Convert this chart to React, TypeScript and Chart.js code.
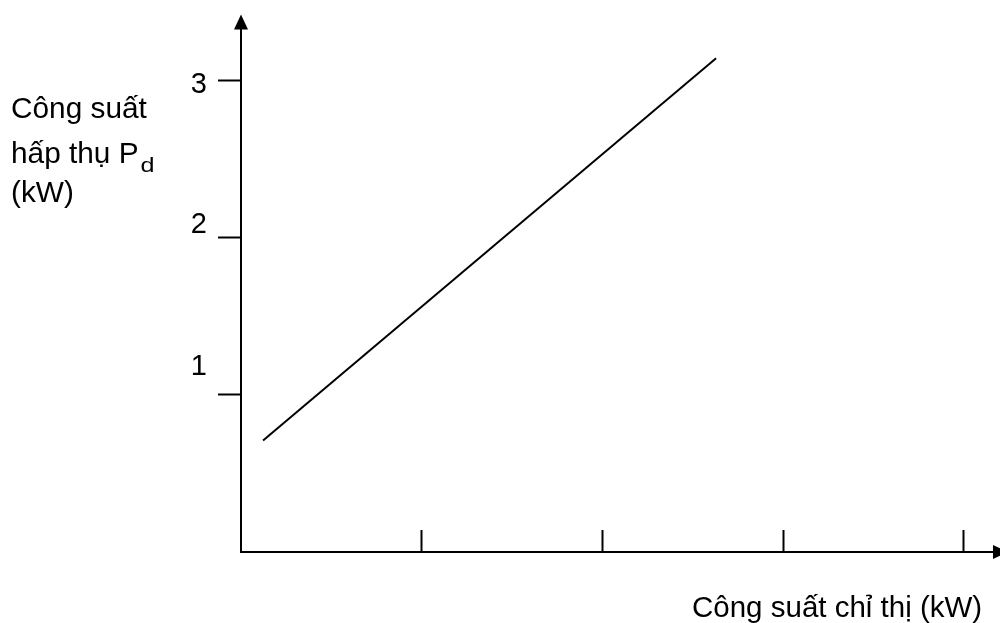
import React, { useEffect, useRef } from 'react';
import { Chart, registerables } from 'chart.js';

Chart.register(...registerables);

// ---- data ----
const xTickValues = [1, 2, 3, 4];
const yTickValues = [1, 2, 3];
const yTickLabels = ['1', '2', '3'];
// the labels in the source drawing sit slightly off their tick marks
const yTickLabelValues = [1.18, 2.08, 2.975];
const lineX = [0.122, 2.629];
const lineY = [0.71, 3.145];
const xMax = 4.167;
const yMax = 3.335;
const yTitleLines = ['Công suất', 'hấp thụ P', '(kW)'];
const yTitleSub = 'd';
const xTitle = 'Công suất chỉ thị (kW)';

const FONT = '"Liberation Sans", Arial, Helvetica, sans-serif';

const decorPlugin = {
  id: 'decor',
  afterDraw(chart: any) {
    const { ctx, chartArea } = chart;
    const xs = chart.scales.x;
    const ys = chart.scales.y;
    ctx.save();
    ctx.fillStyle = '#000';
    // arrow heads at axis ends
    const ax = ys.right;
    const top = chartArea.top;
    ctx.beginPath();
    ctx.moveTo(ax - 7, top + 1);
    ctx.lineTo(ax + 7, top + 1);
    ctx.lineTo(ax, top - 14);
    ctx.closePath();
    ctx.fill();
    const ay = xs.top;
    const right = chartArea.right;
    ctx.beginPath();
    ctx.moveTo(right - 1, ay - 7);
    ctx.lineTo(right - 1, ay + 7);
    ctx.lineTo(right + 14, ay);
    ctx.closePath();
    ctx.fill();

    // axis titles
    ctx.textBaseline = 'alphabetic';
    ctx.textAlign = 'left';
    ctx.font = `29.8px ${FONT}`;
    const baselines = [118, 163, 202];
    yTitleLines.forEach((t, i) => ctx.fillText(t, 11, baselines[i]));
    const w = ctx.measureText(yTitleLines[1]).width;
    ctx.save();
    ctx.font = `21px ${FONT}`;
    ctx.translate(11 + w + 2, 172);
    ctx.scale(1.2, 1);
    ctx.fillText(yTitleSub, 0, 0);
    ctx.restore();
    ctx.font = `29.5px ${FONT}`;
    ctx.fillText(xTitle, 692, 617);
    ctx.restore();
  },
};

export default function App() {
  const ref = useRef<HTMLCanvasElement>(null);

  useEffect(() => {
    document.body.style.margin = '0';
    document.body.style.overflow = 'hidden';
    const canvas = ref.current!;
    const chart = new Chart(canvas, {
      type: 'scatter',
      data: {
        datasets: [
          {
            data: lineX.map((x, i) => ({ x, y: lineY[i] })),
            showLine: true,
            borderColor: '#000',
            borderWidth: 2,
            pointRadius: 0,
            xAxisID: 'x',
            yAxisID: 'y',
          },
        ],
      },
      options: {
        animation: false,
        responsive: false,
        maintainAspectRatio: false,
        devicePixelRatio: 1,
        layout: { padding: { top: 26, right: 6, left: 0, bottom: 0 } },
        plugins: { legend: { display: false }, tooltip: { enabled: false }, title: { display: false } },
        scales: {
          x: {
            type: 'linear',
            position: 'bottom',
            min: 0,
            max: xMax,
            afterBuildTicks: (s: any) => {
              s.ticks = xTickValues.map((v) => ({ value: v }));
            },
            afterFit: (s: any) => {
              s.height = 71;
            },
            ticks: { display: false },
            grid: {
              drawOnChartArea: false,
              drawTicks: true,
              tickLength: -22,
              tickWidth: 2,
              tickColor: '#000',
              color: '#000',
            },
            border: { display: true, color: '#000', width: 2 },
          },
          y: {
            type: 'linear',
            position: 'left',
            weight: 0,
            min: 0,
            max: yMax,
            afterBuildTicks: (s: any) => {
              s.ticks = yTickValues.map((v) => ({ value: v }));
            },
            afterFit: (s: any) => {
              s.width = 23;
            },
            ticks: { display: false },
            grid: {
              drawOnChartArea: false,
              drawTicks: true,
              tickLength: 23,
              tickWidth: 2,
              tickColor: '#000',
              color: '#000',
            },
            border: { display: true, color: '#000', width: 2 },
          },
          yLabels: {
            type: 'linear',
            position: 'left',
            weight: 1,
            min: 0,
            max: yMax,
            afterBuildTicks: (s: any) => {
              s.ticks = yTickLabelValues.map((v) => ({ value: v }));
            },
            afterFit: (s: any) => {
              s.width = 218;
            },
            ticks: {
              display: true,
              padding: 11,
              color: '#000',
              font: { family: FONT, size: 29 },
              callback: (_v: any, i: number) => yTickLabels[i],
            },
            grid: { display: false, drawTicks: false, drawOnChartArea: false },
            border: { display: false },
          },
        },
      },
      plugins: [decorPlugin],
    } as any);
    return () => chart.destroy();
  }, []);

  return (
    <div style={{ width: 1000, height: 623, position: 'relative' }}>
      <canvas ref={ref} width={1000} height={623} style={{ display: 'block', width: 1000, height: 623 }} />
    </div>
  );
}
